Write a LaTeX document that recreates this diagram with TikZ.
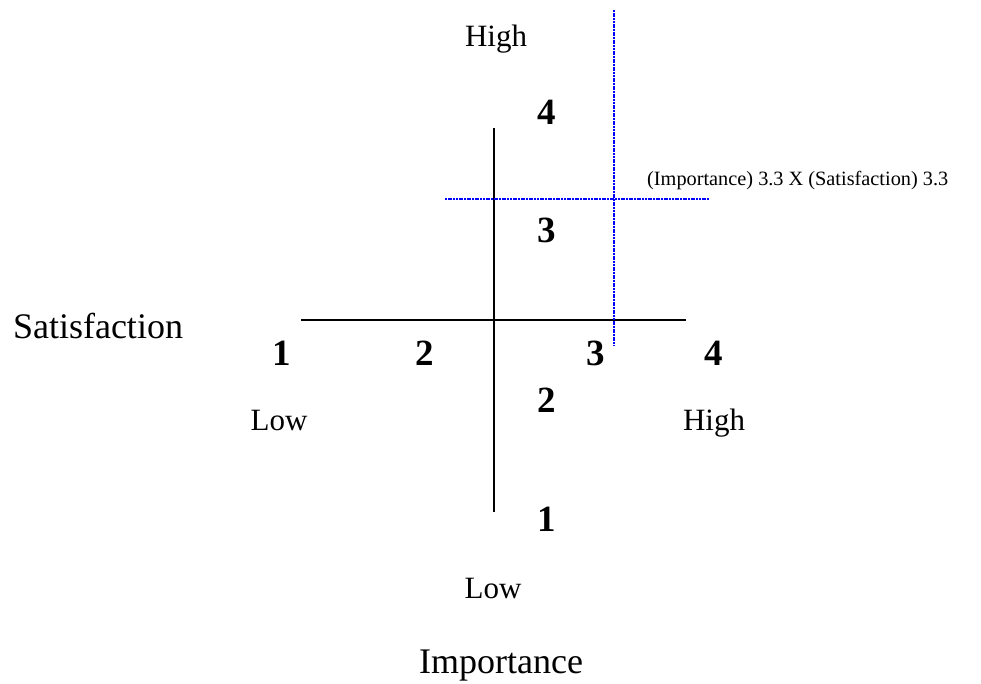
\documentclass[tikz,border=0pt]{standalone}
\usepackage{fontspec}
\setmainfont{Liberation Serif}
\usepackage{tikz}
\usepackage{xcolor}

\begin{document}
\begin{tikzpicture}[x=1pt,y=-1pt,line cap=butt,
  every node/.style={anchor=base,inner sep=0pt},
  big/.style={font=\fontsize{36}{40}\selectfont},
  tag/.style={font=\fontsize{31}{34}\selectfont},
  num/.style={font=\fontsize{37}{40}\selectfont\bfseries},
  axis/.style={black,line width=2pt},
  cut/.style={blue,line width=1.7pt,dash pattern=on 2pt off 0.7pt}]
\useasboundingbox (0,0) rectangle (981,683);
% axes
\coordinate (xl) at (301,320);
\coordinate (xr) at (686,320);
\coordinate (yt) at (494,128);
\coordinate (yb) at (494,512);
\draw[axis] (xl) -- (xr);
\draw[axis] (yt) -- (yb);
% the 3.3 x 3.3 cut
\coordinate (ct) at (614,10);
\coordinate (cb) at (614,345);
\coordinate (cl) at (445,199);
\coordinate (cr) at (709,199);
\draw[cut] (ct) -- (cb);
\draw[cut] (cl) -- (cr);
\node[anchor=base west,font=\fontsize{20.3}{23}\selectfont] (cutlab) at (647,185) {(Importance) 3.3 X (Satisfaction) 3.3};
% satisfaction scale
\node[big] (sat) at (98,338) {Satisfaction};
\node[num] (s1) at (282,365) {1};
\node[num] (s2) at (425,365) {2};
\node[num] (s3) at (596,365) {3};
\node[num] (s4) at (714,365) {4};
\node[tag] (slow) at (279,430) {Low};
\node[tag] (shigh) at (714,430) {High};
% importance scale
\node[tag] (ihigh) at (496,46) {High};
\node[num] (i4) at (547,124) {4};
\node[num] (i3) at (547,242) {3};
\node[num] (i2) at (547,412) {2};
\node[num] (i1) at (547,531) {1};
\node[tag] (ilow) at (493,598) {Low};
\node[big] (imp) at (501,673) {Importance};
\end{tikzpicture}
\end{document}
